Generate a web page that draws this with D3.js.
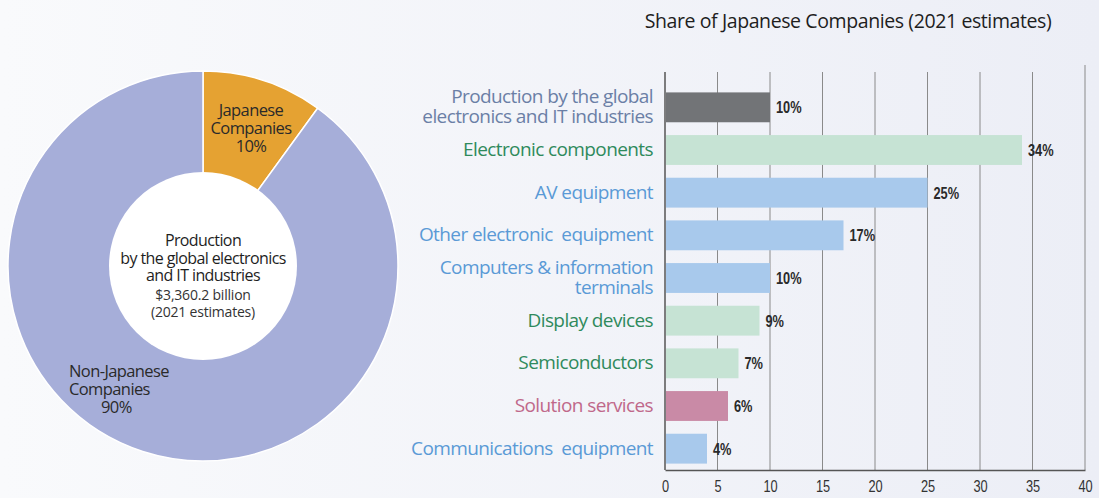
<!DOCTYPE html>
<html>
<head>
<meta charset="utf-8">
<script src="https://cdn.jsdelivr.net/npm/d3@7"></script>
<style>
  html, body { margin: 0; padding: 0; }
  body { width: 1099px; height: 498px; overflow: hidden; }
  svg { display: block; }
  text { white-space: pre; }
</style>
</head>
<body>
<svg id="chart" width="1099" height="498"></svg>
<script>
// donut data
var pieLabels = ["Japanese\nCompanies", "Non-Japanese\nCompanies"];
var pieValues = [10, 90];

// bar data (share of Japanese companies, %)
var categories = [
  "Production by the global\nelectronics and IT industries",
  "Electronic components",
  "AV equipment",
  "Other electronic  equipment",
  "Computers & information\nterminals",
  "Display devices",
  "Semiconductors",
  "Solution services",
  "Communications  equipment"
];
var values = [10, 34, 25, 17, 10, 9, 7, 6, 4];
var groups = ["total", "parts", "sets", "sets", "sets", "parts", "parts", "services", "sets"];
var xTicks = [0, 5, 10, 15, 20, 25, 30, 35, 40];

var barColor = { total: "#727477", parts: "#c6e3d4", sets: "#a8c9ec", services: "#c98aa6" };
var textColor = { total: "#6b7fa6", parts: "#2f8a5c", sets: "#5a9ad6", services: "#c0688a" };

var svg = d3.select("#chart");

// background: soft gradient
var defs = svg.append("defs");
var grad = defs.append("linearGradient").attr("id", "bg").attr("x1", 0).attr("x2", 1).attr("y1", 0).attr("y2", 0);
grad.append("stop").attr("offset", "0%").attr("stop-color", "#f9fafc");
grad.append("stop").attr("offset", "100%").attr("stop-color", "#eceef6");
svg.append("rect").attr("width", 1099).attr("height", 498).attr("fill", "url(#bg)");

// ---- donut ----
var cx = 203, cy = 266, rOuter = 195, rInner = 94;
var pie = d3.pie().sort(null).value(d => d)(pieValues);
var arc = d3.arc().innerRadius(0).outerRadius(rOuter);
var pieColors = ["#e5a232", "#a6aed9"];

var donut = svg.append("g").attr("transform", "translate(" + cx + "," + cy + ")");
donut.selectAll("path.slice")
  .data(pie)
  .enter()
  .append("path")
  .attr("class", "slice")
  .attr("d", arc)
  .attr("fill", (d, i) => pieColors[i])
  .attr("stroke", "#ffffff")
  .attr("stroke-width", 1.5);

donut.append("circle").attr("r", rInner).attr("fill", "#ffffff");

var pieFont = "'Open Sans', 'Noto Sans', sans-serif";

// slice labels
var sliceLabelPos = [
  { x: 48, y: -150, anchor: "middle" },
  { x: -134, y: 111, anchor: "start" }
];
pie.forEach(function (d, i) {
  var lines = pieLabels[i].split("\n").concat([pieValues[i] + "%"]);
  var p = sliceLabelPos[i];
  var t = donut.append("text")
    .attr("font-family", pieFont)
    .attr("font-size", 16.5)
    .attr("letter-spacing", -0.6)
    .attr("fill", "#2a2a2a")
    .attr("text-anchor", p.anchor);
  lines.forEach(function (l, j) {
    var isPct = j == lines.length - 1;
    t.append("tspan")
      .attr("x", (isPct && p.anchor == "start") ? p.x + 32 : p.x)
      .attr("y", p.y + j * 18)
      .text(l);
  });
});

// centre text
var centerLines = ["Production", "by the global electronics", "and IT industries"];
var centerSub = ["$3,360.2 billion", "(2021 estimates)"];
var ct = donut.append("text")
  .attr("font-family", pieFont)
  .attr("text-anchor", "middle")
  .attr("fill", "#1e1e1e");
centerLines.forEach(function (l, j) {
  ct.append("tspan").attr("x", 0).attr("y", -20 + j * 17.5)
    .attr("font-size", 16).attr("letter-spacing", -0.6).text(l);
});
centerSub.forEach(function (l, j) {
  ct.append("tspan").attr("x", 0).attr("y", 34 + j * 17)
    .attr("font-size", 14).attr("fill", "#333").attr("letter-spacing", -0.2).text(l);
});

// ---- bar chart ----
var x = d3.scaleLinear().domain([0, 40]).range([665, 1085]);
var y = d3.scaleBand().domain(categories).range([86, 470]).paddingInner(0.3).paddingOuter(0.15);

var narrow = "'Liberation Sans', Arial, sans-serif";
var squeeze = 0.8;

// title
svg.append("text")
  .attr("x", 848).attr("y", 28)
  .attr("text-anchor", "middle")
  .attr("font-family", pieFont)
  .attr("font-size", 19.5)
  .attr("letter-spacing", -0.4)
  .attr("fill", "#1e1e1e")
  .text("Share of Japanese Companies (2021 estimates)");

// grid lines
svg.append("g").selectAll("line")
  .data(xTicks)
  .enter()
  .append("line")
  .attr("x1", d => x(d)).attr("x2", d => x(d))
  .attr("y1", d => d == 40 ? 65 : 72)
  .attr("y2", 470)
  .attr("stroke", d => d == 0 ? "#555" : "#8a8a8a")
  .attr("stroke-width", d => d == 0 ? 1.5 : 1);

// bars
svg.append("g").selectAll("rect")
  .data(categories)
  .enter()
  .append("rect")
  .attr("x", x(0) + 1)
  .attr("y", d => y(d))
  .attr("width", (d, i) => x(values[i]) - x(0) - 1)
  .attr("height", y.bandwidth())
  .attr("fill", (d, i) => barColor[groups[i]]);

// bottom axis
var xAxis = d3.axisBottom(x).tickValues(xTicks).tickSize(0).tickPadding(11);
var ax = svg.append("g").attr("transform", "translate(0,470)").call(xAxis);
ax.select(".domain").attr("stroke", "#555").attr("stroke-width", 1.5);
ax.selectAll("text")
  .attr("font-family", narrow)
  .attr("font-size", 16)
  .attr("fill", "#333")
  .attr("transform", "scale(" + squeeze + ",1)");

// value labels
svg.append("g").selectAll("text")
  .data(categories)
  .enter()
  .append("text")
  .attr("transform", (d, i) => "translate(" + (x(values[i]) + 6) + "," + (y(d) + y.bandwidth() / 2 + 6) + ") scale(" + squeeze + ",1)")
  .attr("font-family", narrow)
  .attr("font-weight", "bold")
  .attr("font-size", 16)
  .attr("fill", "#2a2a2a")
  .text((d, i) => values[i] + "%");

// category labels
var lab = svg.append("g").selectAll("text")
  .data(categories)
  .enter()
  .append("text")
  .attr("text-anchor", "end")
  .attr("font-family", pieFont)
  .attr("font-size", 19)
  .attr("letter-spacing", -0.6)
  .attr("fill", (d, i) => textColor[groups[i]]);
lab.each(function (d) {
  var lines = d.split("\n");
  var mid = y(d) + y.bandwidth() / 2;
  var t = d3.select(this);
  lines.forEach(function (l, j) {
    t.append("tspan")
      .attr("x", 653)
      .attr("y", mid + 6 + (j - (lines.length - 1) / 2) * 20)
      .text(l);
  });
});
</script>
</body>
</html>
